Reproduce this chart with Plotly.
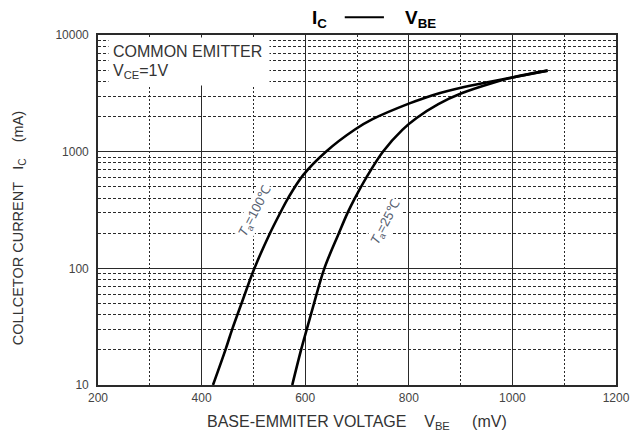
import numpy as np
import plotly.graph_objects as go

# ---- data ----
vbe_100c = [422, 446, 459, 477, 502, 532, 552, 567, 596, 640, 696, 730, 800, 846, 909, 1000, 1068]
ic_100c = [10, 20, 30, 50, 100, 200, 300, 400, 630, 1000, 1550, 1900, 2580, 3050, 3600, 4330, 4950]

vbe_25c = [575, 592, 603, 617, 637, 665, 682, 696, 718, 750, 788, 815, 857, 903, 963, 1000, 1068]
ic_25c = [10, 20, 30, 50, 100, 200, 300, 400, 600, 1000, 1545, 1945, 2560, 3180, 3900, 4330, 4950]

x_ticks = [200, 400, 600, 800, 1000, 1200]
y_ticks = [10, 100, 1000, 10000]
y_ticktext = ["10", "100", "1000", "10000"]

label_100c = "<i>T</i><sub>a</sub>=100℃"
label_25c = "<i>T</i><sub>a</sub>=25℃"
label_100c_pos = (504, 306)
label_25c_pos = (756, 246)

W, H = 642, 434
L, R, T, B = 98, 15, 35, 49
PW, PH = W - L - R, H - T - B


def px(xp):
    return (xp - L) / PW


def py(yp):
    return (H - B - yp) / PH


FONT = "Liberation Sans, Arial, sans-serif"
GRID = "#2a2a2a"

fig = go.Figure()
for xs, ys in [(vbe_100c, ic_100c), (vbe_25c, ic_25c)]:
    fig.add_trace(go.Scatter(x=xs, y=ys, mode="lines",
                             line=dict(color="black", width=2.6, shape="spline", smoothing=1.0),
                             showlegend=False, hoverinfo="skip"))

fig.update_layout(
    width=W, height=H, autosize=False,
    margin=dict(l=L, r=R, t=T, b=B, pad=0),
    paper_bgcolor="white", plot_bgcolor="white",
    font=dict(family=FONT, color="#333333"),
    showlegend=False,
)

fig.update_xaxes(
    range=[200, 1200], tickvals=x_ticks, ticktext=[str(v) for v in x_ticks],
    showgrid=True, gridcolor=GRID, gridwidth=1.2,
    minor=dict(dtick=100, showgrid=True, gridcolor=GRID, gridwidth=1, griddash="2px,2px"),
    showline=True, linecolor=GRID, linewidth=1.6, mirror=True,
    ticks="", zeroline=False, tickfont=dict(size=12, color="#444444"),
    ticklabelstandoff=1,
)
fig.update_yaxes(
    type="log", range=[1, 4], tickvals=y_ticks, ticktext=y_ticktext,
    showgrid=True, gridcolor=GRID, gridwidth=1.2,
    minor=dict(dtick="D1", showgrid=True, gridcolor=GRID, gridwidth=1, griddash="3px,2px"),
    showline=True, linecolor=GRID, linewidth=1.6, mirror=True,
    ticks="", zeroline=False, tickfont=dict(size=12, color="#444444"),
    ticklabelstandoff=5,
)

nb = "\u00a0"
ann = []
# white mask behind the condition text
ann.append(dict(text=nb, xref="paper", yref="paper", x=px(108), y=py(36.5),
                xanchor="left", yanchor="top", showarrow=False,
                width=160, height=47, bgcolor="white", borderpad=0,
                font=dict(size=10)))
ann.append(dict(text="COMMON EMITTER", xref="paper", yref="paper", x=px(111), y=py(51),
                xanchor="left", yanchor="middle", showarrow=False,
                font=dict(size=16, color="#333333")))
ann.append(dict(text="V<sub>CE</sub>=1V", xref="paper", yref="paper", x=px(111), y=py(71),
                xanchor="left", yanchor="middle", showarrow=False,
                font=dict(size=16, color="#333333")))
for txt, (lx, ly) in [(label_100c, label_100c_pos), (label_25c, label_25c_pos)]:
    ann.append(dict(text=txt, x=lx, y=np.log10(ly), xref="x", yref="y",
                    showarrow=False, textangle=-62, bgcolor="white",
                    font=dict(size=13, color="#556070")))
# title pieces
ann.append(dict(text="<b>I<sub>C</sub></b>", xref="paper", yref="paper", x=px(314), y=py(19),
                xanchor="left", yanchor="middle", showarrow=False,
                font=dict(size=19, color="black")))
ann.append(dict(text="<b>V<sub>BE</sub></b>", xref="paper", yref="paper", x=px(409), y=py(19),
                xanchor="left", yanchor="middle", showarrow=False,
                font=dict(size=19, color="black")))
fig.add_shape(type="line", xref="paper", yref="paper", x0=px(350), x1=px(390),
              y0=py(17.3), y1=py(17.3), line=dict(color="black", width=2))
# axis titles
ann.append(dict(text="BASE-EMMITER VOLTAGE" + nb * 4 + "V<sub>BE</sub>" + nb * 5 + "(mV)",
                xref="paper", yref="paper", x=px(362.5), y=py(422),
                xanchor="center", yanchor="middle", showarrow=False,
                font=dict(size=16, color="#333333")))
ann.append(dict(text="COLLCETOR CURRENT" + nb * 3 + "I<sub>C</sub>" + nb * 4 + "(mA)",
                xref="paper", yref="paper", x=px(17), y=py(228.5), textangle=-90,
                xanchor="center", yanchor="middle", showarrow=False,
                font=dict(size=14.5, color="#333333")))
fig.update_layout(annotations=ann)

fig.write_html("out.html", config={"displayModeBar": False},
               post_script="document.body.style.margin='0px';")
